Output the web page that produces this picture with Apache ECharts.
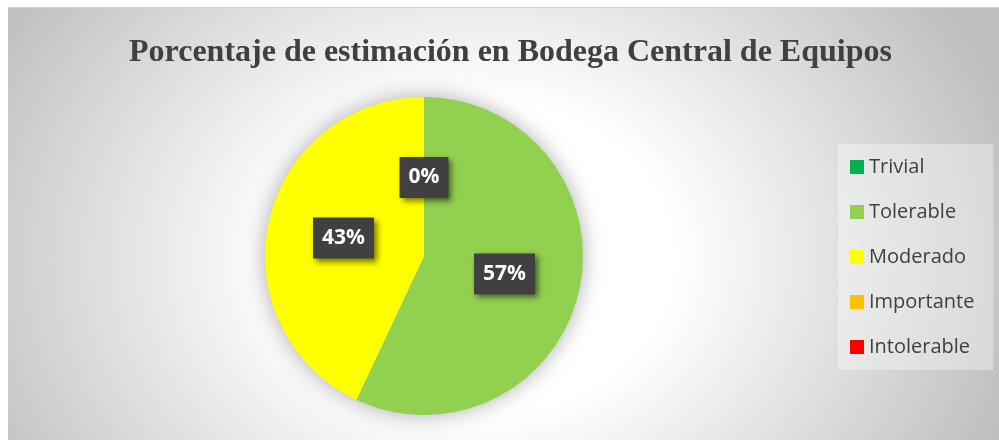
<!DOCTYPE html>
<html>
<head>
<meta charset="utf-8">
<script src="https://cdn.jsdelivr.net/npm/echarts@6/dist/echarts.min.js"></script>
<style>
  html, body { margin: 0; padding: 0; background: #fff; }
  #main {
    position: absolute; left: 8px; top: 7px; width: 991px; height: 433px;
    border-top: 1px solid #d0d0d0;
    background: radial-gradient(ellipse 560px 450px at 470px 250px, #ffffff 0%, #ffffff 35%, #bfbfbf 100%);
  }
</style>
</head>
<body>
<div id="main"></div>
<script>
var myChart = echarts.init(document.getElementById('main'));

// datos
var categorias = ['Trivial', 'Tolerable', 'Moderado', 'Importante', 'Intolerable'];
var porcentajes = [0, 57, 43, 0, 0];
var colores = ['#00b050', '#92d050', '#ffff00', '#ffc000', '#ff0000'];

var total = porcentajes.reduce(function (a, b) { return a + b; }, 0);

var datos = categorias.map(function (c, i) {
    var item = {
        name: c,
        value: porcentajes[i],
        itemStyle: { color: colores[i] }
    };
    // Excel apila las etiquetas de 0% en el mismo punto, solo se ve una
    if (porcentajes[i] === 0) {
        item.label = i === 0 ? { offset: [0, 4] } : { show: false };
    }
    return item;
});

option = {
    title: {
        text: 'Porcentaje de estimación en Bodega Central de Equipos',
        left: 116,
        top: 24,
        textStyle: {
            fontFamily: 'Liberation Serif',
            fontWeight: 'bold',
            fontSize: 32,
            color: '#404040'
        }
    },
    legend: {
        orient: 'vertical',
        left: 830,
        top: 136,
        padding: [12, 19, 12, 12],
        backgroundColor: 'rgba(255,255,255,0.35)',
        itemWidth: 14,
        itemHeight: 14,
        itemGap: 23,
        icon: 'rect',
        data: categorias,
        textStyle: {
            fontFamily: 'Open Sans',
            fontSize: 20,
            lineHeight: 22,
            color: '#404040'
        }
    },
    series: [
        {
            name: 'sombra',
            type: 'pie',
            silent: true,
            center: [416, 248],
            radius: 158,
            z: 1,
            label: { show: false },
            labelLine: { show: false },
            itemStyle: {
                color: '#ffffff',
                shadowBlur: 22,
                shadowColor: 'rgba(0,0,0,0.35)'
            },
            data: [{ name: 'total', value: total }]
        },
        {
            name: 'Porcentaje',
            type: 'pie',
            center: [416, 248],
            radius: 159,
            startAngle: 90,
            clockwise: true,
            z: 2,
            stillShowZeroSum: true,
            emphasis: { disabled: true },
            label: {
                show: true,
                position: 'inside',
                formatter: '{d}%',
                fontFamily: 'Open Sans',
                fontWeight: 'bold',
                fontSize: 21,
                lineHeight: 24,
                color: '#ffffff',
                backgroundColor: '#404040',
                padding: [9, 9, 8, 9],
                shadowColor: 'rgba(0,0,0,0.55)',
                shadowBlur: 6,
                shadowOffsetX: 3,
                shadowOffsetY: 3
            },
            labelLine: { show: false },
            data: datos
        }
    ]
};
myChart.setOption(option);
</script>
</body>
</html>
